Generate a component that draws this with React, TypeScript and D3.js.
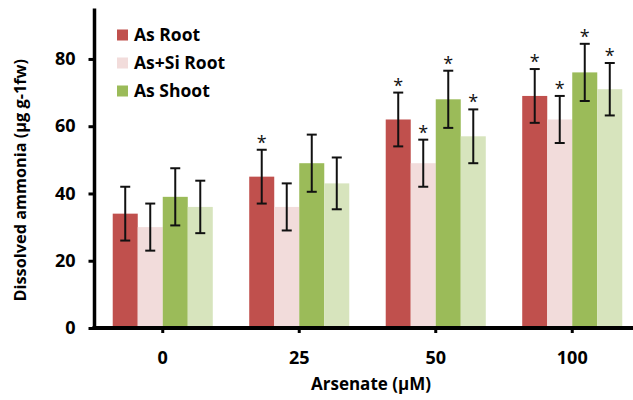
import React, { useEffect, useRef } from 'react'
import * as d3 from 'd3'

const categories = ['0', '25', '50', '100']
const seriesNames = ['As Root', 'As+Si Root', 'As Shoot', 'As+Si Shoot']
const seriesColors = ['#C0504D', '#F2DCDB', '#9BBB59', '#D7E4BD']
const legendNames = ['As Root', 'As+Si Root', 'As Shoot']

const asRoot = [34, 45, 62, 69]
const asSiRoot = [30, 36, 49, 62]
const asShoot = [39, 49, 68, 76]
const asSiShoot = [36, 43, 57, 71]

const asRootErr = [8, 8, 8, 8]
const asSiRootErr = [7, 7, 7, 7]
const asShootErr = [8.5, 8.5, 8.5, 8.5]
const asSiShootErr = [7.8, 7.7, 8, 7.8]

const asRootStar = [false, true, true, true]
const asSiRootStar = [false, false, true, true]
const asShootStar = [false, false, true, true]
const asSiShootStar = [false, false, true, true]

const yTicks = [0, 20, 40, 60, 80]

const FONT = '"Open Sans", sans-serif'

export default function App() {
  const svgRef = useRef<SVGSVGElement>(null)

  useEffect(() => {
    const width = 633
    const height = 400
    const svg = d3.select(svgRef.current)
    svg.selectAll('*').remove()

    const values = [asRoot, asSiRoot, asShoot, asSiShoot]
    const errs = [asRootErr, asSiRootErr, asShootErr, asSiShootErr]
    const stars = [asRootStar, asSiRootStar, asShootStar, asSiShootStar]

    const rows = categories.flatMap((cat, ci) =>
      seriesNames.map((name, si) => ({
        cat,
        name,
        color: seriesColors[si],
        value: values[si][ci],
        err: errs[si][ci],
        star: stars[si][ci],
      }))
    )

    const axisX = 94.5
    const x0 = d3.scaleBand().domain(categories).range([axisX, axisX + 546])
    const groupW = x0.bandwidth() * 0.733
    const x1 = d3.scaleBand().domain(seriesNames).range([0, groupW])
    const y = d3.scaleLinear().domain([0, 95]).range([328, 8.5])

    const barX = (d) => x0(d.cat) + (x0.bandwidth() - groupW) / 2 + x1(d.name)

    // bars
    svg.selectAll('.bar')
      .data(rows)
      .join('rect')
      .attr('class', 'bar')
      .attr('x', barX)
      .attr('y', (d) => y(d.value))
      .attr('width', x1.bandwidth())
      .attr('height', (d) => y(0) - y(d.value))
      .attr('fill', (d) => d.color)

    // error bars + significance stars
    const eb = svg.append('g').attr('stroke', '#111').attr('stroke-width', 2)
    rows.forEach((d) => {
      const cx = barX(d) + x1.bandwidth() / 2
      const top = y(d.value + d.err)
      const bot = y(d.value - d.err)
      eb.append('line').attr('x1', cx).attr('x2', cx).attr('y1', top).attr('y2', bot)
      eb.append('line').attr('x1', cx - 5).attr('x2', cx + 5).attr('y1', top).attr('y2', top)
      eb.append('line').attr('x1', cx - 5).attr('x2', cx + 5).attr('y1', bot).attr('y2', bot)
      if (d.star) {
        svg.append('text')
          .attr('x', cx)
          .attr('y', top - 1)
          .attr('text-anchor', 'middle')
          .attr('font-family', FONT)
          .attr('font-size', 18)
          .attr('fill', '#111')
          .text('*')
      }
    })

    // y axis
    const gy = svg.append('g')
      .attr('transform', `translate(${axisX},0)`)
      .call(d3.axisLeft(y).tickValues(yTicks).tickSize(6).tickPadding(13).tickSizeOuter(0))
    gy.select('.domain').attr('stroke', '#000').attr('stroke-width', 3.5)
      .attr('d', `M0,${y(95)}V${y(0) + 2}`)
    gy.selectAll('.tick line').attr('stroke', '#000').attr('stroke-width', 3)
    gy.selectAll('.tick text')
      .attr('font-family', FONT)
      .attr('font-weight', 700)
      .attr('font-size', 18)
      .attr('fill', '#000')

    // x axis
    const gx = svg.append('g')
      .attr('transform', `translate(0,${y(0)})`)
      .call(d3.axisBottom(x0).tickSize(5).tickPadding(18).tickSizeOuter(0))
    gx.select('.domain').attr('stroke', '#000').attr('stroke-width', 4)
      .attr('d', `M${axisX - 2},0H${width}`)
    gx.selectAll('.tick line').attr('stroke', '#000').attr('stroke-width', 3)
    gx.selectAll('.tick text')
      .attr('font-family', FONT)
      .attr('font-weight', 700)
      .attr('font-size', 18)
      .attr('fill', '#000')

    // axis titles
    svg.append('text')
      .attr('transform', `translate(26,${(y(0) + y(95)) / 2 + 12}) rotate(-90)`)
      .attr('text-anchor', 'middle')
      .attr('font-family', FONT)
      .attr('font-weight', 700)
      .attr('font-size', 16.3)
      .attr('fill', '#000')
      .text('Dissolved ammonia (μg g-1fw)')

    svg.append('text')
      .attr('x', 371)
      .attr('y', 390)
      .attr('text-anchor', 'middle')
      .attr('font-family', FONT)
      .attr('font-weight', 700)
      .attr('font-size', 17)
      .attr('fill', '#000')
      .text('Arsenate (μM)')

    // legend (three entries, as in the source figure)
    legendNames.forEach((name, i) => {
      const cy = 35 + i * 28
      svg.append('rect')
        .attr('x', 117)
        .attr('y', cy - 5.5)
        .attr('width', 11)
        .attr('height', 11)
        .attr('fill', seriesColors[seriesNames.indexOf(name)])
      svg.append('text')
        .attr('x', 134)
        .attr('y', cy + 6)
        .attr('font-family', FONT)
        .attr('font-weight', 700)
        .attr('font-size', 17.5)
        .attr('fill', '#000')
        .text(name)
    })

    svg.attr('width', width).attr('height', height)
  }, [])

  return (
    <svg
      ref={svgRef}
      width={633}
      height={400}
      style={{ position: 'absolute', left: 0, top: 0, background: '#fff' }}
    />
  )
}
